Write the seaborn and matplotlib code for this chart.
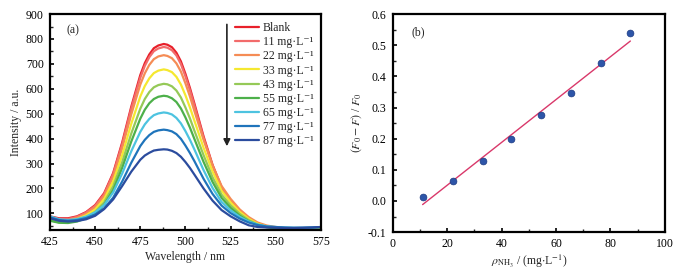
import numpy as np
import pandas as pd
import seaborn as sns
import matplotlib.pyplot as plt
from matplotlib.ticker import MultipleLocator, FormatStrFormatter

# ---------------------------------------------------------------------------
# Data
# ---------------------------------------------------------------------------

wavelength = [425, 430, 435, 440, 445, 450, 455, 460, 465, 470, 475, 477.5, 480, 482.5,
              485, 488, 490, 492.5, 495, 497.5, 500, 502.5, 505, 510, 515, 520, 525,
              530, 535, 540, 545, 550, 555, 560, 565, 570, 575]

blank = [88, 80, 80, 88, 105, 133, 181, 262, 385, 528, 655, 703, 738, 763, 774, 780,
         777, 767, 745, 710, 660, 603, 540, 410, 295, 205, 150, 108, 78, 58, 48, 43,
         40, 38, 38, 38, 39]
c11 = [85, 77, 77, 86, 103, 130, 177, 258, 378, 520, 644, 692, 727, 751, 762, 768,
       765, 755, 734, 699, 650, 594, 532, 404, 291, 202, 148, 107, 77, 58, 47, 43,
       40, 38, 38, 38, 39]
c22 = [80, 73, 73, 82, 98, 124, 169, 246, 362, 497, 617, 662, 696, 719, 730, 735,
       732, 723, 702, 669, 622, 569, 510, 396, 292, 210, 158, 116, 85, 63, 51, 45,
       41, 39, 38, 38, 38]
c33 = [78, 70, 70, 77, 92, 115, 157, 228, 334, 459, 569, 611, 642, 663, 673, 678,
       675, 667, 648, 617, 574, 525, 471, 364, 268, 191, 144, 106, 78, 58, 47, 41,
       39, 37, 36, 36, 36]
c43 = [72, 64, 64, 71, 84, 106, 144, 209, 306, 420, 520, 559, 587, 606, 615, 620,
       618, 610, 593, 565, 525, 481, 431, 334, 245, 175, 132, 98, 73, 55, 46, 40,
       38, 36, 35, 35, 35]
c55 = [70, 62, 61, 67, 80, 99, 134, 194, 283, 388, 480, 516, 542, 559, 568, 572,
       570, 562, 547, 521, 485, 444, 398, 307, 226, 162, 122, 91, 68, 53, 44, 39,
       37, 35, 34, 34, 34]
c65 = [88, 76, 73, 77, 87, 104, 133, 184, 260, 349, 427, 457, 479, 494, 501, 505,
       503, 497, 483, 461, 430, 395, 356, 274, 202, 146, 112, 86, 67, 55, 48, 45,
       43, 42, 42, 43, 45]
c77 = [84, 73, 70, 73, 81, 95, 120, 163, 228, 303, 370, 395, 414, 427, 433, 436,
       434, 429, 418, 399, 372, 342, 309, 239, 178, 131, 101, 79, 63, 53, 47, 45,
       43, 42, 42, 43, 45]
c87 = [80, 70, 67, 69, 76, 90, 117, 156, 210, 267, 315, 332, 343, 352, 355, 357,
       356, 351, 342, 327, 306, 282, 255, 200, 151, 113, 88, 68, 52, 45, 43, 42,
       41, 41, 42, 43, 45]

labels = ['Blank', '11 mg\u00b7L\u207b\u00b9', '22 mg\u00b7L\u207b\u00b9', '33 mg\u00b7L\u207b\u00b9',
          '43 mg\u00b7L\u207b\u00b9', '55 mg\u00b7L\u207b\u00b9', '65 mg\u00b7L\u207b\u00b9',
          '77 mg\u00b7L\u207b\u00b9', '87 mg\u00b7L\u207b\u00b9']
colors = ['#e8202a', '#f26b6b', '#f58c55', '#f5e830', '#95c957',
          '#4db04a', '#4dc3e0', '#1f74bb', '#2b4c9e']

# quenching ratio vs concentration
conc = [11, 22, 33, 43.6, 54.6, 65.5, 76.5, 87.3]
quench = [0.013, 0.064, 0.129, 0.200, 0.275, 0.347, 0.443, 0.538]

# ---------------------------------------------------------------------------
# Wrangling
# ---------------------------------------------------------------------------

spectra = [blank, c11, c22, c33, c43, c55, c65, c77, c87]
frames = []
for lab, vals in zip(labels, spectra):
    frames.append(pd.DataFrame({'wl': wavelength, 'intensity': vals, 'sample': lab}))
df = pd.concat(frames, ignore_index=True)

df_q = pd.DataFrame({'conc': conc, 'quench': quench})
slope, intercept = np.polyfit(conc, quench, 1)
fit_x = [min(conc), max(conc)]
df_fit = pd.DataFrame({'x': fit_x, 'y': [slope * v + intercept for v in fit_x]})

# ---------------------------------------------------------------------------
# Visualization
# ---------------------------------------------------------------------------

sns.set_style('ticks')
plt.rcParams['font.family'] = ['Liberation Serif', 'DejaVu Serif']
plt.rcParams['mathtext.fontset'] = 'stix'
plt.rcParams['axes.unicode_minus'] = True

fig = plt.figure(figsize=(6.79, 2.74), dpi=100)
ax1 = fig.add_axes([0.0736, 0.1606, 0.399, 0.788])
ax2 = fig.add_axes([0.5783, 0.153, 0.401, 0.7956])

# (a) spectra
sns.lineplot(data=df, x='wl', y='intensity', hue='sample', palette=colors,
             hue_order=labels, linewidth=1.6, ax=ax1, sort=False)
ax1.set_xlim(425, 575)
ax1.set_ylim(33, 900)
ax1.xaxis.set_major_locator(MultipleLocator(25))
ax1.xaxis.set_minor_locator(MultipleLocator(12.5))
ax1.yaxis.set_major_locator(MultipleLocator(100))
ax1.yaxis.set_minor_locator(MultipleLocator(50))
ax1.set_yticks(range(100, 1000, 100))
ax1.set_xlabel('Wavelength / nm', fontsize=8.5, labelpad=2)
ax1.set_ylabel('Intensity / a.u.', fontsize=8.5, labelpad=3)
leg = ax1.legend(loc='upper right', frameon=False, fontsize=8.5, labelspacing=0.18,
                 handlelength=2.0, handletextpad=0.35, borderaxespad=0.2,
                 bbox_to_anchor=(1.0, 0.995))
for line in leg.get_lines():
    line.set_linewidth(1.6)
ax1.annotate('', xy=(0.653, 0.375), xytext=(0.653, 0.965), xycoords='axes fraction',
             arrowprops=dict(arrowstyle='-|>', color='#222222', lw=1.2,
                             mutation_scale=10))
ax1.text(0.06, 0.925, '(a)', transform=ax1.transAxes, fontsize=8.5, va='center')

# (b) linear fit
sns.lineplot(data=df_fit, x='x', y='y', color='#d9386a', linewidth=1.0, ax=ax2)
sns.scatterplot(data=df_q, x='conc', y='quench', color='#2d55a8', edgecolor='#1b3a82',
                linewidth=0.5, s=24, ax=ax2, zorder=3)
ax2.set_xlim(0, 100)
ax2.set_ylim(-0.1, 0.6)
ax2.xaxis.set_major_locator(MultipleLocator(20))
ax2.xaxis.set_minor_locator(MultipleLocator(10))
ax2.yaxis.set_major_locator(MultipleLocator(0.1))
ax2.yaxis.set_minor_locator(MultipleLocator(0.05))
ax2.yaxis.set_major_formatter(FormatStrFormatter('%.1f'))
ax2.set_xlabel('$\\rho_{\\mathrm{NH_3}}$ / (mg$\\cdot$L$^{-1}$)', fontsize=8.5, labelpad=2)
ax2.set_ylabel('$(F_0-F)$ / $F_0$', fontsize=8.5, labelpad=3)
ax2.text(0.07, 0.915, '(b)', transform=ax2.transAxes, fontsize=8.5, va='center')

for ax in (ax1, ax2):
    for sp in ax.spines.values():
        sp.set_visible(True)
        sp.set_linewidth(1.6)
        sp.set_color('black')
    ax.tick_params(which='major', direction='in', length=3, width=1.2,
                   labelsize=8.5, pad=4.5, colors='black')
    ax.tick_params(which='minor', direction='in', length=2, width=1.0)
    ax.grid(False)

fig.savefig('out.png', dpi=100)
